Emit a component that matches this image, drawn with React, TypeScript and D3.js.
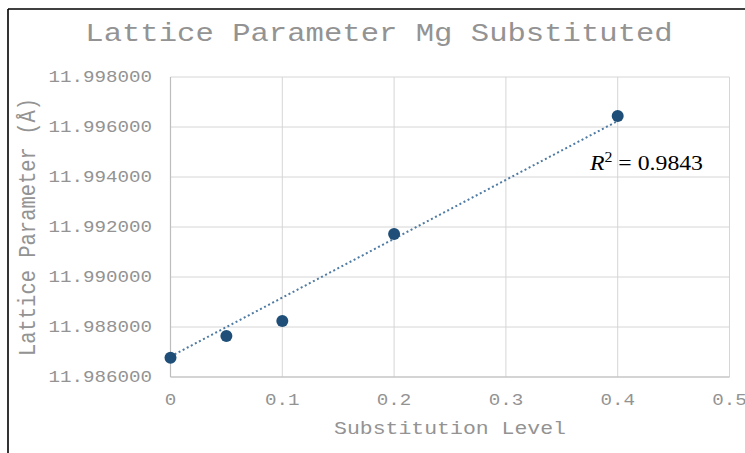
import React from "react";
import * as d3 from "d3";

// Substitution level (x) and measured lattice parameter in Å (y)
const substitution = [0, 0.05, 0.1, 0.2, 0.4];
const latticeParam = [11.98677, 11.98764, 11.98824, 11.99172, 11.99644];

// Linear trendline as reported by the spreadsheet fit
const trendIntercept = 11.98682;
const trendSlope = 0.02355;
const trendRange = [0, 0.4];
const rSquared = "0.9843";

const xTicks = [0, 0.1, 0.2, 0.3, 0.4, 0.5];
const yTicks = [11.986, 11.988, 11.99, 11.992, 11.994, 11.996, 11.998];

const W = 745;
const H = 453;
const plot = { left: 170.5, right: 729.5, top: 77, bottom: 377 };
const STRETCH = 1.2;
const MONO = "'Liberation Mono', 'Courier New', monospace";
const TEXT_GREY = "#939393";

export default function App() {
  const x = d3.scaleLinear().domain([0, 0.5]).range([plot.left, plot.right]);
  const y = d3.scaleLinear().domain([11.986, 11.998]).range([plot.bottom, plot.top]);
  const fmtY = d3.format(".6f");
  const fmtX = (v: number) => (v === 0 ? "0" : d3.format(".1f")(v));

  const trend = d3
    .line<number>()
    .x((v) => x(v))
    .y((v) => y(trendIntercept + trendSlope * v))(trendRange);

  return (
    <svg
      width={W}
      height={H}
      style={{ position: "absolute", left: 0, top: 0, background: "#fff" }}
    >
      <rect x={0} y={0} width={W} height={H} fill="#fff" />
      {/* frame edges */}
      <line x1={8} y1={9} x2={W} y2={9} stroke="#000" strokeWidth={1.6} />
      <line x1={8} y1={9} x2={8} y2={H} stroke="#000" strokeWidth={1.6} />

      {/* title */}
      <g transform={`translate(379,41) scale(${STRETCH},1)`}>
        <text textAnchor="middle" fontFamily={MONO} fontSize={25.5} fill={TEXT_GREY}>
          Lattice Parameter Mg Substituted
        </text>
      </g>

      {/* gridlines */}
      {yTicks.map((t) => (
        <line key={"gy" + t} x1={plot.left} x2={plot.right} y1={y(t)} y2={y(t)} stroke="#d6d6d6" strokeWidth={1} />
      ))}
      {xTicks.map((t) => (
        <line key={"gx" + t} x1={x(t)} x2={x(t)} y1={plot.top} y2={plot.bottom} stroke="#d6d6d6" strokeWidth={1} />
      ))}
      {/* axis lines */}
      <line x1={plot.left} x2={plot.right} y1={plot.bottom} y2={plot.bottom} stroke="#bdbdbd" strokeWidth={1.2} />
      <line x1={plot.left} x2={plot.left} y1={plot.top} y2={plot.bottom} stroke="#bdbdbd" strokeWidth={1.2} />

      {/* y tick labels */}
      {yTicks.map((t) => (
        <g key={"ly" + t} transform={`translate(152,${y(t) + 5}) scale(${STRETCH},1)`}>
          <text textAnchor="end" fontFamily={MONO} fontSize={16} fill={TEXT_GREY}>
            {fmtY(t)}
          </text>
        </g>
      ))}
      {/* x tick labels */}
      {xTicks.map((t) => (
        <g key={"lx" + t} transform={`translate(${x(t)},405) scale(${STRETCH},1)`}>
          <text textAnchor="middle" fontFamily={MONO} fontSize={16} fill={TEXT_GREY}>
            {fmtX(t)}
          </text>
        </g>
      ))}

      {/* axis titles */}
      <g transform={`translate(450,434) scale(${STRETCH},1)`}>
        <text textAnchor="middle" fontFamily={MONO} fontSize={17.9} fill={TEXT_GREY}>
          Substitution Level
        </text>
      </g>
      <g transform={`translate(35,227) scale(${STRETCH},1) rotate(-90)`}>
        <text textAnchor="middle" fontFamily={MONO} fontSize={20.5} fill={TEXT_GREY}>
          Lattice Parameter (Å)
        </text>
      </g>

      {/* trendline */}
      <path d={trend ?? ""} fill="none" stroke="#4f7ba3" strokeWidth={2} strokeDasharray="2 2.6" />

      {/* data points */}
      {substitution.map((s, i) => (
        <circle key={"p" + i} cx={x(s)} cy={y(latticeParam[i])} r={6} fill="#1f4f78" />
      ))}

      {/* coefficient of determination */}
      <text x={590} y={170} fontFamily="'Liberation Serif', 'DejaVu Serif', serif" fontSize={21} fill="#000" textLength={113} lengthAdjust="spacingAndGlyphs">
        <tspan fontStyle="italic">R</tspan>
        <tspan fontSize={14} dy={-8}>2</tspan>
        <tspan dy={8}>{" = " + rSquared}</tspan>
      </text>
    </svg>
  );
}
